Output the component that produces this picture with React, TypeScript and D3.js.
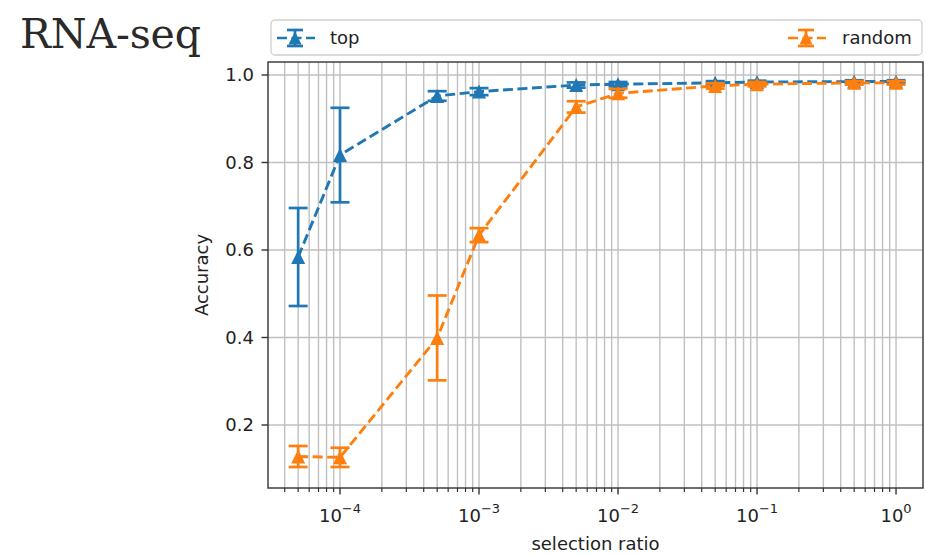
import React from 'react';
import * as d3 from 'd3';

const ratios = [5e-5, 1e-4, 5e-4, 1e-3, 5e-3, 1e-2, 5e-2, 1e-1, 5e-1, 1];
const topMean = [0.584, 0.817, 0.952, 0.962, 0.977, 0.979, 0.982, 0.984, 0.985, 0.985];
const topErr = [0.112, 0.108, 0.011, 0.008, 0.006, 0.005, 0.004, 0.003, 0.003, 0.003];
const randomMean = [0.128, 0.126, 0.399, 0.634, 0.927, 0.958, 0.975, 0.979, 0.982, 0.982];
const randomErr = [0.024, 0.022, 0.097, 0.016, 0.013, 0.01, 0.006, 0.005, 0.004, 0.004];
const yTicks = [0.2, 0.4, 0.6, 0.8, 1.0];
const xExponents = [-4, -3, -2, -1, 0];

const W = 926;
const H = 555;
const left = 268;
const right = 923;
const top = 62;
const bottom = 488;
const font = 'DejaVu Sans, sans-serif';
const BLUE = '#1f77b4';
const ORANGE = '#ff7f0e';

const x = d3.scaleLog().domain([Math.pow(10, -4.518), Math.pow(10, 0.194)]).range([left, right]);
const y = d3.scaleLinear().domain([0.056, 1.0297]).range([bottom, top]);

// triangle marker, matplotlib '^' style
const tri = (cx: number, cy: number, r = 7) =>
  `M${cx},${cy - r}L${cx + r},${cy + r}L${cx - r},${cy + r}Z`;

function Series({ means, errs, color }: { means: number[]; errs: number[]; color: string }) {
  const line = d3
    .line<number>()
    .x((_, i) => x(ratios[i]))
    .y(d => y(d));
  return (
    <g>
      <path d={line(means) || ''} fill="none" stroke={color} strokeWidth={2.9} strokeDasharray="10,4.5" />
      {means.map((m, i) => {
        const cx = x(ratios[i]);
        const y0 = y(m - errs[i]);
        const y1 = y(m + errs[i]);
        return (
          <g key={i} stroke={color} strokeWidth={2.7}>
            <line x1={cx} x2={cx} y1={y0} y2={y1} />
            <line x1={cx - 9.5} x2={cx + 9.5} y1={y0} y2={y0} />
            <line x1={cx - 9.5} x2={cx + 9.5} y1={y1} y2={y1} />
            <path d={tri(cx, y(m))} fill={color} stroke="none" />
          </g>
        );
      })}
    </g>
  );
}

function LegendHandle({ cx, cy, color }: { cx: number; cy: number; color: string }) {
  return (
    <g stroke={color} strokeWidth={2.7}>
      <line x1={cx - 20} x2={cx + 20} y1={cy} y2={cy} strokeDasharray="10,4.5" strokeDashoffset={-2} />
      <line x1={cx} x2={cx} y1={cy - 8} y2={cy + 8} />
      <line x1={cx - 8} x2={cx + 8} y1={cy - 8} y2={cy - 8} />
      <line x1={cx - 8} x2={cx + 8} y1={cy + 8} y2={cy + 8} />
      <path d={tri(cx, cy, 6.5)} fill={color} stroke="none" />
    </g>
  );
}

export default function App() {
  const minor: number[] = [];
  for (let e = -5; e <= 0; e++) {
    for (let k = 2; k <= 9; k++) {
      const v = k * Math.pow(10, e);
      if (x(v) > left + 1 && x(v) < right - 1) minor.push(v);
    }
  }
  const major = xExponents.map(e => Math.pow(10, e));
  return (
    <svg width={W} height={H} style={{ position: 'absolute', left: 0, top: 0, background: '#fff' }}>
      <text x={20} y={48} fontFamily="DejaVu Serif, serif" fontSize={41} fill="#2a2a2a" textLength={181}>
        RNA-seq
      </text>

      {/* grid */}
      <g stroke="#c0c0c0" strokeWidth={1.4}>
        {[...minor, ...major].map((v, i) => (
          <line key={'gx' + i} x1={x(v)} x2={x(v)} y1={top} y2={bottom} />
        ))}
        {yTicks.map(v => (
          <line key={'gy' + v} x1={left} x2={right} y1={y(v)} y2={y(v)} />
        ))}
      </g>

      <Series means={topMean} errs={topErr} color={BLUE} />
      <Series means={randomMean} errs={randomErr} color={ORANGE} />

      {/* frame */}
      <rect x={left} y={top} width={right - left} height={bottom - top} fill="none" stroke="#333" strokeWidth={1.4} />

      {/* y axis */}
      <g fontFamily={font} fontSize={18} fill="#222">
        {yTicks.map(v => (
          <g key={'ty' + v}>
            <line x1={left - 6.5} x2={left} y1={y(v)} y2={y(v)} stroke="#333" strokeWidth={1.4} />
            <text x={left - 14} y={y(v)} dy="0.35em" textAnchor="end">
              {v.toFixed(1)}
            </text>
          </g>
        ))}
        <text transform={`translate(${208},${(top + bottom) / 2}) rotate(-90)`} textAnchor="middle">
          Accuracy
        </text>
      </g>

      {/* x axis */}
      <g fontFamily={font} fill="#222">
        {minor.map((v, i) => (
          <line key={'mt' + i} x1={x(v)} x2={x(v)} y1={bottom} y2={bottom + 4} stroke="#333" strokeWidth={1.2} />
        ))}
        {xExponents.map(e => {
          const px = x(Math.pow(10, e));
          return (
            <g key={'tx' + e}>
              <line x1={px} x2={px} y1={bottom} y2={bottom + 6.5} stroke="#333" strokeWidth={1.4} />
              <text x={px} y={522} textAnchor="middle" fontSize={18}>
                10
                <tspan fontSize={13} dy={-9}>
                  {e === 0 ? '0' : '\u2212' + Math.abs(e)}
                </tspan>
              </text>
            </g>
          );
        })}
        <text x={(left + right) / 2} y={550} textAnchor="middle" fontSize={18}>
          selection ratio
        </text>
      </g>

      {/* legend */}
      <rect x={271} y={20} width={651} height={35} rx={4} fill="#fff" stroke="#d0d0d0" strokeWidth={1.3} />
      <LegendHandle cx={295} cy={38} color={BLUE} />
      <text x={330} y={38} dy="0.35em" fontFamily={font} fontSize={18} fill="#222">
        top
      </text>
      <LegendHandle cx={806} cy={38} color={ORANGE} />
      <text x={842} y={38} dy="0.35em" fontFamily={font} fontSize={18} fill="#222">
        random
      </text>
    </svg>
  );
}
